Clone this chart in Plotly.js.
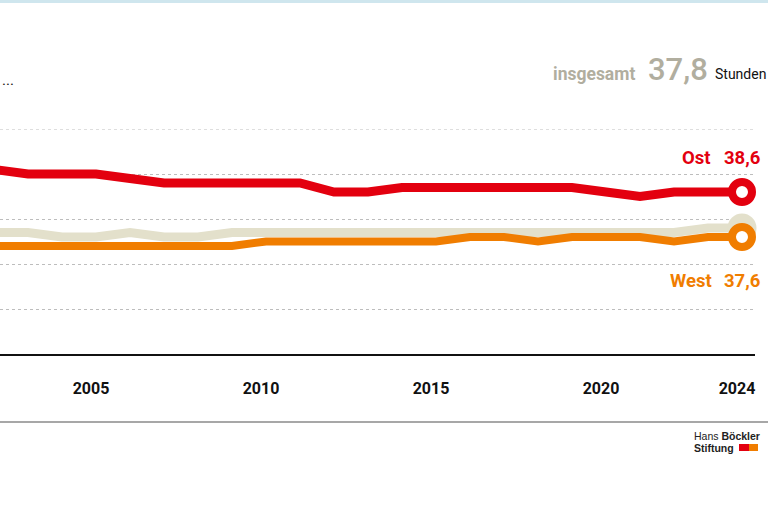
<!DOCTYPE html>
<html>
<head>
<meta charset="utf-8">
<script src="https://cdn.plot.ly/plotly-3.0.1.min.js"></script>
<style>html,body{margin:0;padding:0;background:#fff;}#chart{width:768px;height:512px;}</style>
</head>
<body>
<div id="chart"></div>
<script>
// ---- data ----
const years = [2002,2003,2004,2005,2006,2007,2008,2009,2010,2011,2012,2013,2014,2015,2016,2017,2018,2019,2020,2021,2022,2023,2024];
const ost   = [39.1,39.0,39.0,39.0,38.9,38.8,38.8,38.8,38.8,38.8,38.6,38.6,38.7,38.7,38.7,38.7,38.7,38.7,38.6,38.5,38.6,38.6,38.6];
const west  = [37.4,37.4,37.4,37.4,37.4,37.4,37.4,37.4,37.5,37.5,37.5,37.5,37.5,37.5,37.6,37.6,37.5,37.6,37.6,37.6,37.5,37.6,37.6];
const gesamt= [37.7,37.7,37.6,37.6,37.7,37.6,37.6,37.7,37.7,37.7,37.7,37.7,37.7,37.7,37.7,37.7,37.7,37.7,37.7,37.7,37.7,37.8,37.8];
const tickYears = [2005,2010,2015,2020,2024];
const tickLabels = ["2005","2010","2015","2020","2024"];
const gridValues = [35,36,37,38,39,40];
const lastOst = "38,6", lastWest = "37,6", lastGesamt = "37,8";

const RED = "#e3000f", ORANGE = "#f07d00", BEIGE = "#e3e0cb", GRAYTXT = "#b1ae9f", GRID = "#bdbdbd";
const COND = "Roboto, 'DejaVu Sans Condensed', sans-serif";
const SANS = "'Liberation Sans', Arial, sans-serif";

// pixel -> paper helpers (plot area: x 0..755, y 129..354)
const PW = 755, PT = 129, PB = 354, PH = PB - PT;
const px = v => v / PW;
const py = v => (PB - v) / PH;
const last = a => a[a.length - 1];
const lastYear = last(years);

const traces = [
  {x: years, y: gesamt, mode: "lines", line: {color: BEIGE, width: 9}, hoverinfo: "skip"},
  {x: [lastYear], y: [last(gesamt)], mode: "markers", cliponaxis: false,
   marker: {size: 29, color: BEIGE, line: {width: 0}}, hoverinfo: "skip"},
  {x: years, y: west, mode: "lines", line: {color: ORANGE, width: 8}, hoverinfo: "skip"},
  {x: [lastYear], y: [last(west)], mode: "markers", cliponaxis: false,
   marker: {size: 20, color: "#fff", line: {width: 8, color: ORANGE}}, hoverinfo: "skip"},
  {x: years, y: ost, mode: "lines", line: {color: RED, width: 9}, hoverinfo: "skip"},
  {x: [lastYear], y: [last(ost)], mode: "markers", cliponaxis: false,
   marker: {size: 20, color: "#fff", line: {width: 8, color: RED}}, hoverinfo: "skip"}
];

function ann(text, xp, yp, xanchor, font) {
  return {text: text, xref: "paper", yref: "paper", x: px(xp), y: py(yp),
          xanchor: xanchor, yanchor: "middle", showarrow: false, font: font};
}

const annotations = [
  ann("...", 0, 80, "left", {family: COND, size: 15, color: "#111"}),
  ann("insgesamt", 637, 74, "right", {family: COND, size: 17.5, color: GRAYTXT, weight: 700}),
  ann(lastGesamt, 710, 69, "right", {family: COND, size: 31, color: GRAYTXT, weight: 500}),
  ann("Stunden", 768, 74, "right", {family: COND, size: 14, color: "#111"}),
  ann("Ost", 713, 158, "right", {family: COND, size: 18.5, color: RED, weight: 700}),
  ann(lastOst, 762, 158, "right", {family: COND, size: 18.5, color: RED, weight: 700}),
  ann("West", 714, 281, "right", {family: COND, size: 18.5, color: ORANGE, weight: 700}),
  ann(lastWest, 762, 281, "right", {family: COND, size: 18.5, color: ORANGE, weight: 700}),
  ann("Hans <b>Böckler</b>", 692, 436, "left", {family: SANS, size: 10.5, color: "#222"}),
  ann("<b>Stiftung</b>", 692, 448, "left", {family: SANS, size: 10.5, color: "#222"})
];

const shapes = [
  {type: "rect", xref: "paper", yref: "paper", x0: 0, x1: px(768), y0: py(3), y1: py(0),
   fillcolor: "#cfe6ee", line: {width: 0}},
  {type: "line", xref: "paper", yref: "paper", x0: 0, x1: px(768), y0: py(422), y1: py(422),
   line: {color: "#8a8a8a", width: 1.5}},
  // top gridline at the upper edge of the value range
  {type: "line", xref: "paper", yref: "y", x0: 0, x1: 1, y0: last(gridValues), y1: last(gridValues),
   layer: "below", line: {color: GRID, width: 1, dash: "dot"}},
  {type: "rect", xref: "paper", yref: "paper", x0: px(739), x1: px(749), y0: py(451), y1: py(444),
   fillcolor: RED, line: {width: 0}},
  {type: "rect", xref: "paper", yref: "paper", x0: px(749), x1: px(758), y0: py(451), y1: py(444),
   fillcolor: ORANGE, line: {width: 0}}
];

const x0 = lastYear - 742 / 34, x1 = lastYear + 13 / 34;

const layout = {
  width: 768, height: 512,
  margin: {l: 0, r: 13, t: PT, b: 512 - PB, pad: 0},
  paper_bgcolor: "#fff", plot_bgcolor: "#fff",
  showlegend: false,
  xaxis: {range: [x0, x1], tickvals: tickYears, ticktext: tickLabels, showgrid: false,
          zeroline: false, showline: true, linecolor: "#111", linewidth: 1.5, ticks: "",
          ticklabelshift: -5, ticklabelstandoff: 19,
          tickfont: {family: COND, size: 16, color: "#111", weight: 700}, fixedrange: true},
  yaxis: {range: [gridValues[0], last(gridValues)], tickvals: gridValues, showticklabels: false,
          showgrid: true, gridcolor: GRID, griddash: "dot", gridwidth: 1,
          zeroline: false, showline: false, ticks: "", fixedrange: true},
  annotations: annotations,
  shapes: shapes
};

Plotly.newPlot("chart", traces, layout, {displayModeBar: false, staticPlot: true});
</script>
</body>
</html>
